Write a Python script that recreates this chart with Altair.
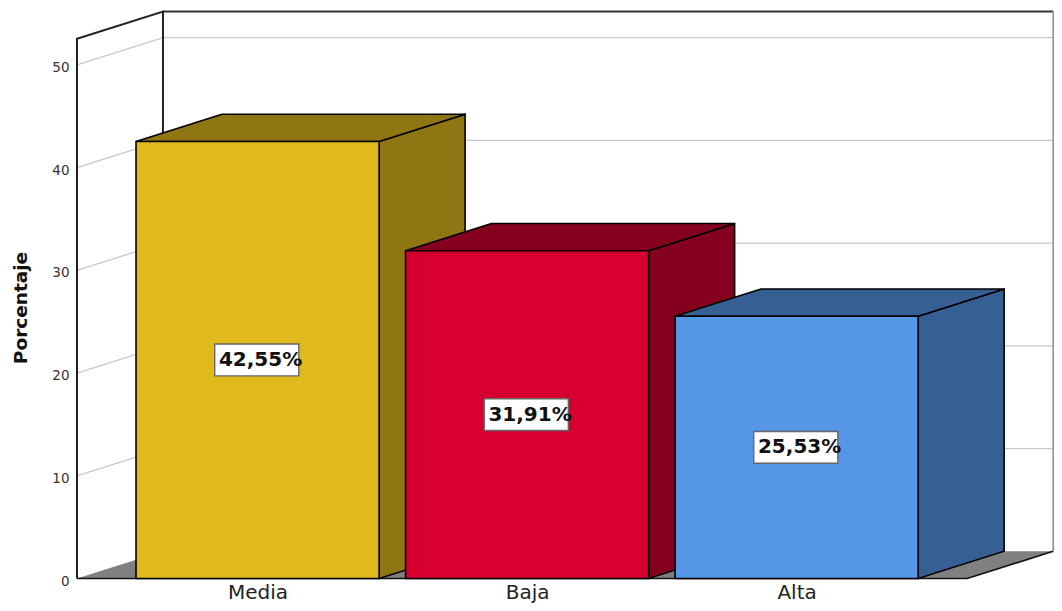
import json
import altair as alt
import pandas as pd

categories = ["Media", "Baja", "Alta"]
values = [42.55, 31.91, 25.53]
labels = ["42,55%", "31,91%", "25,53%"]
front_colors = ["#e0b91c", "#d5002f", "#5596e6"]
side_colors = ["#8f7612", "#85001f", "#366093"]
y_ticks = [0, 10, 20, 30, 40, 50]

BAR_HALF = 0.451
DX = 0.319
DY = 2.65
X_LEFT = -0.67
X_RIGHT = 2.633
X_END = 2.955
Y_TOP = 52.55
LABEL_HALF_X = 0.156
LABEL_HALF_Y = 1.55
FONT = "DejaVu Sans"

xs = alt.Scale(domain=[X_LEFT, X_END], nice=False, zero=False)
ys = alt.Scale(domain=[0, Y_TOP + DY], nice=False, zero=False)

x_axis = alt.Axis(
    values=[0, 1, 2], title=None, grid=False, domain=False, ticks=False,
    labelExpr=f"{json.dumps(categories)}[datum.value]",
    labelFontSize=20, labelFont=FONT, labelColor="#222222", labelPadding=19.5,
    labelBaseline="alphabetic",
)
y_axis = alt.Axis(
    values=y_ticks, title="Porcentaje", grid=False, domain=False, ticks=False,
    labelFontSize=13.5, labelFont=FONT, labelColor="#333333", labelPadding=8,
    labelOffset=2.5, titleFont=FONT, titleFontSize=18.5, titleFontWeight="bold",
    titleColor="#111111", titleX=-47, titleY=296,
)


def X(f="x"):
    return alt.X(f"{f}:Q", scale=xs, axis=x_axis)


def Y(f="y"):
    return alt.Y(f"{f}:Q", scale=ys, axis=y_axis)


def path(points, color, width=1.5):
    df = pd.DataFrame(points, columns=["x", "y"])
    df["o"] = range(len(df))
    return alt.Chart(df).mark_line(color=color, strokeWidth=width).encode(
        x=X(), y=Y(), order="o:O"
    )


# Floor
floor = alt.Chart(pd.DataFrame({
    "y": [0, DY], "x": [X_LEFT, X_LEFT + DX], "x2": [X_RIGHT, X_RIGHT + DX],
})).mark_area(orient="horizontal", color="#808080").encode(
    y=Y(), x=X(), x2="x2:Q"
)

layers = [floor]

# Gridlines
for t in y_ticks[1:]:
    layers.append(path(
        [(X_LEFT, t), (X_LEFT + DX, t + DY), (X_RIGHT + DX, t + DY)], "#c8c8c8", 1.3
    ))

# Walls
layers.append(path([(X_LEFT, 0), (X_LEFT, Y_TOP), (X_LEFT + DX, Y_TOP + DY),
                    (X_LEFT + DX, DY)], "#222222", 2))
layers.append(path([(X_LEFT + DX, Y_TOP + DY), (X_RIGHT + DX, Y_TOP + DY)], "#333333", 2))
layers.append(path([(X_RIGHT + DX, Y_TOP + DY), (X_RIGHT + DX, DY)], "#8a8a8a", 1.5))
layers.append(path([(X_LEFT, 0), (X_RIGHT, 0), (X_RIGHT + DX, DY)], "#111111", 1.6))

# Bars, painted from the front-left one to the right so each covers its neighbour
for i, (v, front, side) in enumerate(zip(values, front_colors, side_colors)):
    x0, x1 = i - BAR_HALF, i + BAR_HALF
    side_df = pd.DataFrame({"x": [x1, x1 + DX], "y": [v, v + DY], "y2": [0, DY]})
    top_df = pd.DataFrame({"y": [v, v + DY], "x": [x0, x0 + DX], "x2": [x1, x1 + DX]})
    front_df = pd.DataFrame({"x": [x0], "x2": [x1], "y": [v], "y2": [0]})
    layers.append(alt.Chart(side_df).mark_area(
        color=side, stroke="#000000", strokeWidth=1.6
    ).encode(x=X(), y=Y(), y2="y2:Q"))
    layers.append(alt.Chart(top_df).mark_area(
        orient="horizontal", color=side, stroke="#000000", strokeWidth=1.6
    ).encode(y=Y(), x=X(), x2="x2:Q"))
    layers.append(alt.Chart(front_df).mark_rect(
        color=front, stroke="#000000", strokeWidth=1.6
    ).encode(x=X(), x2="x2:Q", y=Y(), y2="y2:Q"))

# Value labels
label_df = pd.DataFrame({"c": list(range(len(values))), "v": values, "t": labels})
label_df["my"] = label_df["v"] / 2
label_df["bx0"] = label_df["c"] - LABEL_HALF_X - 0.003
label_df["bx1"] = label_df["c"] + LABEL_HALF_X - 0.003
label_df["by0"] = label_df["my"] - LABEL_HALF_Y
label_df["by1"] = label_df["my"] + LABEL_HALF_Y
layers.append(alt.Chart(label_df).mark_rect(
    color="#ffffff", stroke="#666666", strokeWidth=1.4
).encode(x=X("bx0"), x2="bx1:Q", y=Y("by0"), y2="by1:Q"))
layers.append(alt.Chart(label_df).mark_text(
    font=FONT, fontSize=20, fontWeight="bold", color="#111111", baseline="middle", dx=3
).encode(x=X("c"), y=Y("my"), text="t:N"))

chart = alt.layer(*layers).properties(
    width=977,
    height=567,
    autosize=alt.AutoSizeParams(type="none"),
    padding={"left": 69, "top": 3.5, "right": 0, "bottom": 24.5},
    background="#ffffff",
).configure_view(stroke=None)

chart.save("out.html", embed_options={"renderer": "svg", "actions": False})
